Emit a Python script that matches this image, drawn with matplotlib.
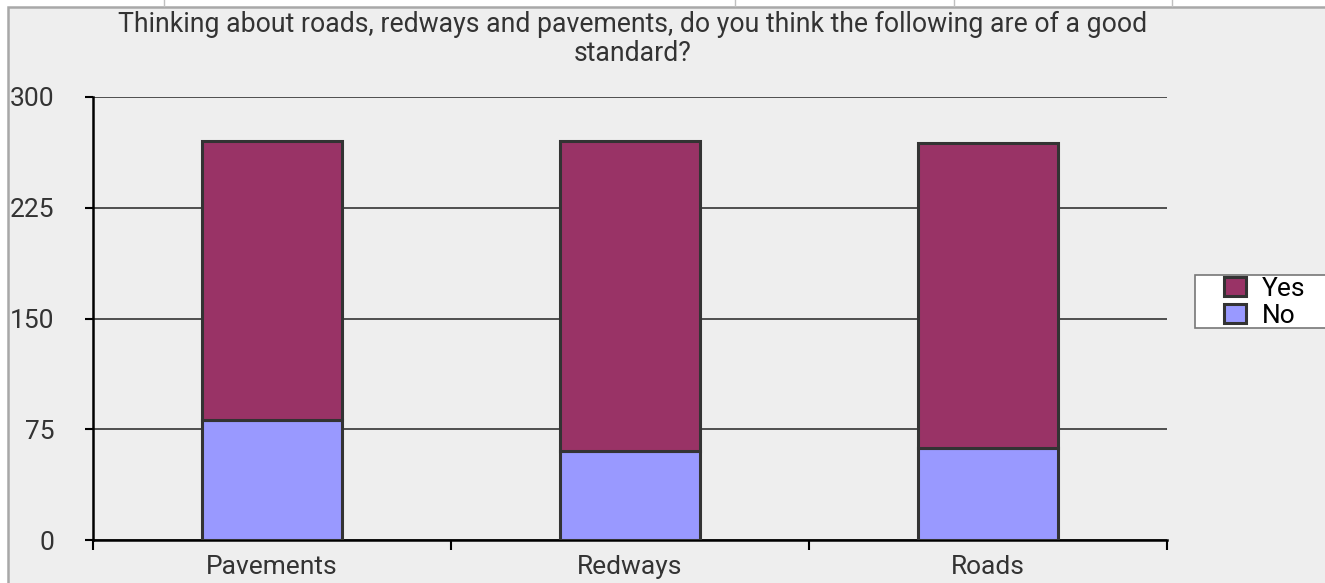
import numpy as np
import matplotlib.pyplot as plt
from matplotlib.patches import Rectangle
from matplotlib.lines import Line2D

# survey counts
categories = ['Pavements', 'Redways', 'Roads']
no_vals = [81, 60, 62]
yes_vals = [189, 210, 207]
yticks = [0, 75, 150, 225, 300]

plt.rcParams['font.family'] = ['Roboto', 'DejaVu Sans']

W, H = 1325, 583
fig = plt.figure(figsize=(W / 100, H / 100), dpi=100, facecolor='white')

# spreadsheet chart frame behind everything
fig.patches.append(Rectangle((8 / W, -0.01), 1.0, (H - 7) / H + 0.01, transform=fig.transFigure,
                             facecolor='#eeeeee', edgecolor='#a8a8a8', linewidth=1.8, zorder=-10))
for xc in [164, 735, 954, 1172]:
    fig.add_artist(Line2D([xc / W, xc / W], [(H - 6) / H, 1.0], transform=fig.transFigure,
                          color='#c0c0c0', linewidth=1))

ax = fig.add_axes([93 / W, 43 / H, 1074 / W, 443 / H])
ax.set_facecolor('#eeeeee')

x = np.arange(len(categories))
ax.bar(x, no_vals, width=0.39, color='#9999ff', edgecolor='#333333', linewidth=2.2, label='No', zorder=3)
ax.bar(x, yes_vals, width=0.39, bottom=no_vals, color='#993366', edgecolor='#333333', linewidth=2.2,
       label='Yes', zorder=3)

ax.set_xlim(-0.5, 2.5)
ax.set_ylim(0, 300)
ax.set_yticks(yticks)
ax.set_yticklabels([str(v) for v in yticks])
ax.yaxis.grid(True, color='#333333', linewidth=1.2, zorder=1)
ax.set_axisbelow(True)

ax.set_xticks([-0.5, 0.5, 1.5, 2.5])
ax.set_xticklabels([])
ax.set_xticks(x, minor=True)
ax.set_xticklabels(categories, minor=True)
ax.tick_params(axis='x', which='minor', length=0, pad=11, labelsize=19, labelcolor='#333333')
ax.tick_params(axis='x', which='major', length=7, width=1.5, direction='out', color='black')
ax.tick_params(axis='y', length=6, width=1.5, pad=22, labelsize=19, labelcolor='#333333')

for s in ['top', 'right']:
    ax.spines[s].set_visible(False)
for s in ['left', 'bottom']:
    ax.spines[s].set_linewidth(1.8)
    ax.spines[s].set_color('black')

fig.text(0.4775, (H - 11) / H, 'Thinking about roads, redways and pavements, do you think the following are of a good\nstandard?',
         ha='center', va='top', fontsize=19.2, color='#333333', linespacing=1.1)

# legend box drawn separately so it can run off the right edge
fig.patches.append(Rectangle((1195 / W, (H - 328) / H), 140 / W, 53 / H, transform=fig.transFigure,
                             facecolor='white', edgecolor='#777777', linewidth=1.2, zorder=5))
handles, labels = ax.get_legend_handles_labels()
leg = fig.legend(handles[::-1], labels[::-1], loc='upper left', bbox_to_anchor=(1221 / W, (H - 274) / H),
                 fontsize=19, frameon=False, handlelength=0.85, handleheight=0.75,
                 handletextpad=0.6, borderpad=0.1, labelspacing=0.12, borderaxespad=0)
leg.set_zorder(6)

fig.savefig('out.png', dpi=100, facecolor='white')
